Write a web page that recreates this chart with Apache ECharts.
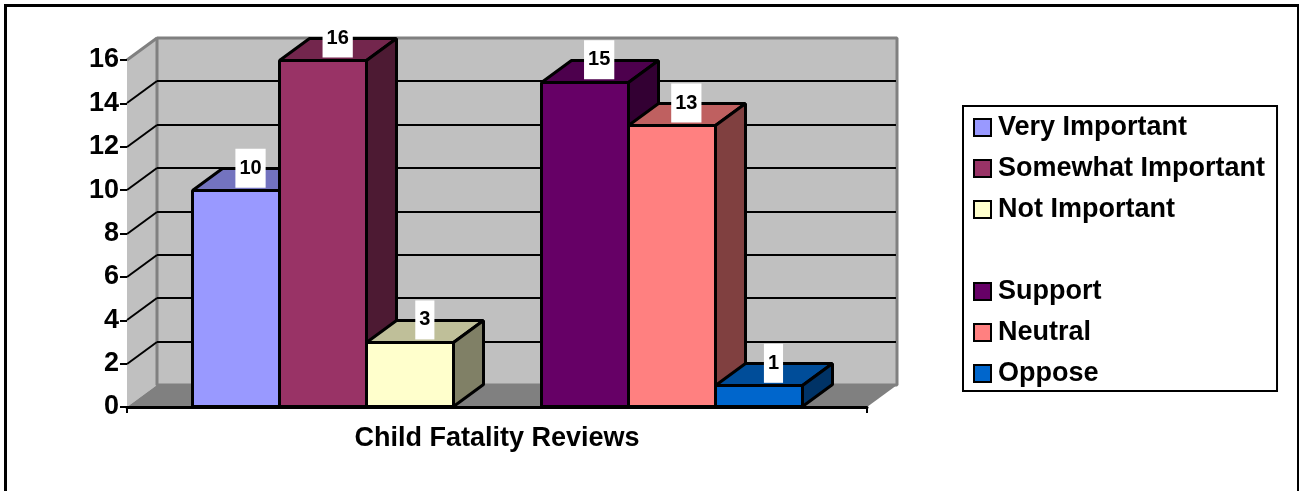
<!DOCTYPE html>
<html>
<head>
<meta charset="utf-8">
<title>Child Fatality Reviews</title>
<style>
html, body { margin: 0; padding: 0; background: #fff; overflow: hidden; }
#main { width: 1299px; height: 491px; }
</style>
<script src="https://cdn.jsdelivr.net/npm/echarts@6/dist/echarts.min.js"></script>
</head>
<body>
<div id="main"></div>
<script>
// chart data, the blank entry is the empty slot between the two groups
var categories = ['Child Fatality Reviews'];
var seriesNames = ['Very Important', 'Somewhat Important', 'Not Important', ' ', 'Support', 'Neutral', 'Oppose'];
var seriesValues = [10, 16, 3, null, 15, 13, 1];
var seriesColors = ['#9999FF', '#993366', '#FFFFCC', '#FFFFFF', '#660066', '#FF8080', '#0066CC'];
var yTicks = [0, 2, 4, 6, 8, 10, 12, 14, 16];

var FONT = '"Liberation Sans", Arial, sans-serif';
var DEPTH_X = 30, DEPTH_Y = -22; // fake 3d depth
var SLOT_RATIO = 8.49; // category band / one bar

var myChart = echarts.init(document.getElementById('main'));

// darken a #rrggbb colour for the top and side faces
function shade(hex, f){
    var n = parseInt(hex.slice(1), 16);
    var r = Math.round((n >> 16) * f), g = Math.round(((n >> 8) & 255) * f), b = Math.round((n & 255) * f);
    return 'rgb(' + r + ',' + g + ',' + b + ')';
}

function poly(points, fill, stroke, lineWidth){
    return {
        type: 'polygon',
        shape: { points: points },
        style: { fill: fill, stroke: stroke, lineWidth: lineWidth, lineJoin: 'bevel' }
    };
}

function line(x1, y1, x2, y2, stroke, lineWidth){
    return {
        type: 'line',
        shape: { x1: x1, y1: y1, x2: x2, y2: y2 },
        style: { stroke: stroke, lineWidth: lineWidth }
    };
}

// back wall, side wall, floor and gridlines, all from the axis scales
function renderWalls(params, api){
    var gray = '#808080';
    var l = params.coordSys.x, w = params.coordSys.width;
    var p0 = Math.round(api.coord([0, 0])[1]);
    var pTop = Math.round(api.coord([0, yTicks[yTicks.length - 1]])[1]);
    var children = [
        poly([[l, pTop], [l + DEPTH_X, pTop + DEPTH_Y], [l + DEPTH_X, p0 + DEPTH_Y], [l, p0]], '#C0C0C0', null, 0),
        poly([[l + DEPTH_X, pTop + DEPTH_Y], [l + w + DEPTH_X, pTop + DEPTH_Y], [l + w + DEPTH_X, p0 + DEPTH_Y], [l + DEPTH_X, p0 + DEPTH_Y]], '#C0C0C0', gray, 3),
        poly([[l, p0], [l + DEPTH_X, p0 + DEPTH_Y], [l + w + DEPTH_X, p0 + DEPTH_Y], [l + w, p0]], gray, null, 0),
        line(l, pTop, l + DEPTH_X, pTop + DEPTH_Y, gray, 3)
    ];
    for(var i = 1; i < yTicks.length - 1; i++){
        var y = Math.round(api.coord([0, yTicks[i]])[1]);
        children.push(line(l, y, l + DEPTH_X, y + DEPTH_Y, '#000', 2));
        children.push(line(l + DEPTH_X, y + DEPTH_Y, l + w + DEPTH_X - 1, y + DEPTH_Y, '#000', 2));
    }
    return { type: 'group', children: children };
}

// one box, slot is the position of the series inside the category band
function makeBox(slot, color){
    return function(params, api){
        var base = api.coord([api.value(0), 0]);
        var topPt = api.coord([api.value(0), api.value(1)]);
        var barW = api.size([1, 0])[0] / SLOT_RATIO;
        // .5 keeps the 3px outline on whole pixels
        var x1 = Math.round(base[0] + (slot - seriesNames.length / 2) * barW) + 0.5;
        var x2 = Math.round(base[0] + (slot + 1 - seriesNames.length / 2) * barW) + 0.5;
        var y0 = Math.round(base[1]) - 0.5, y1 = Math.round(topPt[1]) + 0.5;
        return {
            type: 'group',
            children: [
                poly([[x1, y1], [x1 + DEPTH_X, y1 + DEPTH_Y], [x2 + DEPTH_X, y1 + DEPTH_Y], [x2, y1]], shade(color, 0.75), '#000', 3),
                poly([[x2, y1], [x2 + DEPTH_X, y1 + DEPTH_Y], [x2 + DEPTH_X, y0 + DEPTH_Y], [x2, y0]], shade(color, 0.5), '#000', 3),
                poly([[x1, y1], [x2, y1], [x2, y0], [x1, y0]], color, '#000', 3)
            ]
        };
    };
}

// value boxes go last so no bar covers them
function makeLabel(slot){
    return function(params, api){
        var base = api.coord([api.value(0), 0]);
        var topPt = api.coord([api.value(0), api.value(1)]);
        var barW = api.size([1, 0])[0] / SLOT_RATIO;
        return {
            type: 'text',
            x: base[0] + (slot + 0.5 - seriesNames.length / 2) * barW + DEPTH_X / 2,
            y: topPt[1] + DEPTH_Y,
            style: {
                text: String(api.value(1)),
                font: 'bold 20px ' + FONT,
                fill: '#000',
                align: 'center',
                verticalAlign: 'middle',
                backgroundColor: '#fff',
                padding: [10, 4, 9, 4]
            }
        };
    };
}

var series = [{
    name: 'walls',
    type: 'custom',
    z: 2,
    silent: true,
    renderItem: renderWalls,
    data: [[0, 0]]
}];
seriesNames.forEach(function(name, i){
    series.push({
        name: name,
        type: 'custom',
        z: 4,
        renderItem: makeBox(i, seriesColors[i]),
        itemStyle: { color: seriesColors[i] },
        encode: { x: 0, y: 1 },
        data: seriesValues[i] === null ? [] : [[0, seriesValues[i]]]
    });
});
seriesNames.forEach(function(name, i){
    if(seriesValues[i] === null){ return; }
    series.push({
        name: name + ' label',
        type: 'custom',
        z: 6,
        renderItem: makeLabel(i),
        encode: { x: 0, y: 1 },
        data: [[0, seriesValues[i]]]
    });
});

var legendData = seriesNames.map(function(name){
    if(name === ' '){
        return { name: name, itemStyle: { opacity: 0 } };
    }
    return { name: name };
});

var option = {
    animation: false,
    backgroundColor: '#fff',
    grid: { left: 127, top: 60, width: 740, height: 347 },
    xAxis: {
        type: 'category',
        data: categories,
        z: 3,
        axisLine: { lineStyle: { color: '#000', width: 3 } },
        axisTick: { show: true, length: 6, lineStyle: { color: '#000', width: 2 } },
        axisLabel: { color: '#000', fontFamily: FONT, fontWeight: 'bold', fontSize: 27, margin: 18 }
    },
    yAxis: {
        type: 'value',
        min: 0,
        max: 16,
        interval: 2,
        z: 3,
        splitLine: { show: false },
        axisLine: { show: false },
        axisTick: { show: true, length: 7, lineStyle: { color: '#000', width: 2 } },
        axisLabel: { color: '#000', fontFamily: FONT, fontWeight: 'bold', fontSize: 27, margin: 8, padding: [4, 0, 0, 0] }
    },
    legend: {
        orient: 'vertical',
        left: 963,
        top: 106,
        icon: 'rect',
        itemWidth: 17,
        itemHeight: 17,
        itemGap: 14,
        padding: [8, 12, 4, 10],
        backgroundColor: '#fff',
        borderColor: '#000',
        borderWidth: 2,
        itemStyle: { borderColor: '#000', borderWidth: 2 },
        textStyle: { color: '#000', fontFamily: FONT, fontWeight: 'bold', fontSize: 27, padding: [0, 0, 0, 2] },
        selectedMode: false,
        data: legendData
    },
    graphic: [{
        // outer frame, the bottom edge is below the picture
        type: 'rect',
        shape: { x: 5.5, y: 5.5, width: 1293, height: 600 },
        style: { fill: null, stroke: '#000', lineWidth: 3 },
        silent: true
    }],
    series: series
};
myChart.setOption(option);
</script>
</body>
</html>
